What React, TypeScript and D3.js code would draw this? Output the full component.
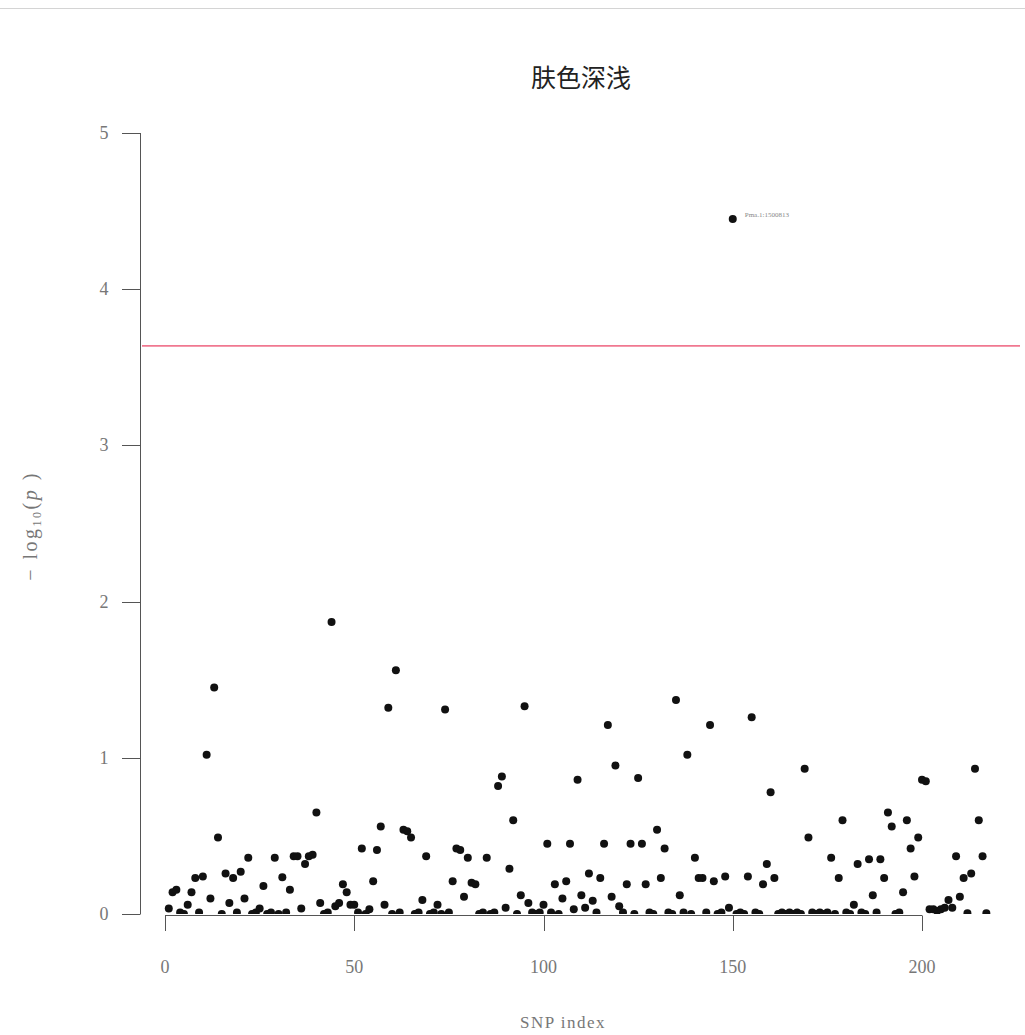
import * as d3 from "d3";
import { useEffect, useRef } from "react";

const title = "肤色深浅";
const xLabel = "SNP index";
const xTicks = [0, 50, 100, 150, 200];
const yTicks = [0, 1, 2, 3, 4, 5];
const threshold = 3.637;
const topSnpLabel = "Pma.1:1500813";

// -log10(p) per SNP, index 1..217
const pValues = [
  0.035, 0.14, 0.155, 0.01, 0.0, 0.06, 0.14, 0.23, 0.01, 0.24,
  1.02, 0.10, 1.45, 0.49, 0.0, 0.26, 0.07, 0.23, 0.01, 0.27,
  0.10, 0.36, 0.0, 0.01, 0.035, 0.18, 0.0, 0.01, 0.36, 0.0,
  0.235, 0.01, 0.155, 0.37, 0.37, 0.035, 0.32, 0.37, 0.38, 0.65,
  0.07, 0.0, 0.01, 1.87, 0.05, 0.07, 0.19, 0.14, 0.06, 0.06,
  0.01, 0.42, 0.0, 0.03, 0.21, 0.41, 0.56, 0.06, 1.32, 0.0,
  1.56, 0.01, 0.54, 0.53, 0.49, 0.0, 0.01, 0.09, 0.37, 0.0,
  0.01, 0.06, 0.0, 1.31, 0.01, 0.21, 0.42, 0.41, 0.11, 0.36,
  0.20, 0.19, 0.0, 0.01, 0.36, 0.0, 0.01, 0.82, 0.88, 0.04,
  0.29, 0.60, 0.0, 0.12, 1.33, 0.07, 0.01, 0.0, 0.01, 0.06,
  0.45, 0.01, 0.19, 0.0, 0.10, 0.21, 0.45, 0.03, 0.86, 0.12,
  0.04, 0.26, 0.085, 0.01, 0.23, 0.45, 1.21, 0.11, 0.95, 0.05,
  0.01, 0.19, 0.45, 0.0, 0.87, 0.45, 0.19, 0.01, 0.0, 0.54,
  0.23, 0.42, 0.01, 0.0, 1.37, 0.12, 0.01, 1.02, 0.0, 0.36,
  0.23, 0.23, 0.01, 1.21, 0.21, 0.0, 0.01, 0.24, 0.04, 4.45,
  0.0, 0.01, 0.0, 0.24, 1.26, 0.01, 0.0, 0.19, 0.32, 0.78,
  0.23, 0.0, 0.01, 0.0, 0.01, 0.0, 0.01, 0.0, 0.93, 0.49,
  0.01, 0.0, 0.01, 0.0, 0.01, 0.36, 0.0, 0.23, 0.60, 0.01,
  0.0, 0.06, 0.32, 0.01, 0.0, 0.35, 0.12, 0.01, 0.35, 0.23,
  0.65, 0.56, 0.0, 0.01, 0.14, 0.60, 0.42, 0.24, 0.49, 0.86,
  0.85, 0.03, 0.03, 0.02, 0.03, 0.04, 0.09, 0.04, 0.37, 0.11,
  0.23, 0.005, 0.26, 0.93, 0.60, 0.37, 0.005,
];

const width = 1025;
const height = 1035;
const serif = "'Liberation Serif', 'DejaVu Serif', serif";

export default function App() {
  const ref = useRef(null);

  useEffect(() => {
    const svg = d3.select(ref.current);
    svg.selectAll("*").remove();

    const x = d3.scaleLinear().domain([0, 200]).range([165, 922]);
    const y = d3.scaleLinear().domain([0, 5]).range([914, 133]);
    const data = pValues.map((v, i) => ({ idx: i + 1, value: v }));

    svg.append("rect").attr("width", width).attr("height", height).attr("fill", "#fff");

    // thin rule at the very top
    svg.append("line")
      .attr("x1", 0).attr("x2", width).attr("y1", 8.5).attr("y2", 8.5)
      .attr("stroke", "#d4d4d4").attr("stroke-width", 1);

    svg.append("text")
      .attr("x", 581).attr("y", 87)
      .attr("text-anchor", "middle")
      .attr("font-family", "'Noto Sans CJK SC', sans-serif")
      .attr("font-size", 25)
      .attr("fill", "#222")
      .text(title);

    // y axis
    const yAxis = svg.append("g").attr("stroke", "#555").attr("fill", "none");
    yAxis.append("line")
      .attr("x1", 140.5).attr("x2", 140.5)
      .attr("y1", y(0)).attr("y2", y(5));
    yTicks.forEach((t) => {
      yAxis.append("line")
        .attr("x1", 122).attr("x2", 140.5)
        .attr("y1", Math.round(y(t)) + 0.5).attr("y2", Math.round(y(t)) + 0.5);
      svg.append("text")
        .attr("x", 104).attr("y", y(t) + 6)
        .attr("text-anchor", "middle")
        .attr("font-family", serif)
        .attr("font-size", 18)
        .attr("fill", "#777")
        .text(t);
    });

    // y label: -log10(p)
    const yl = svg.append("text")
      .attr("transform", "translate(37,526) rotate(-90)")
      .attr("text-anchor", "middle")
      .attr("font-family", serif)
      .attr("font-size", 20)
      .attr("letter-spacing", 2.5)
      .attr("fill", "#777");
    yl.append("tspan").text("\u2212 log");
    yl.append("tspan").attr("font-size", 12).attr("dy", 4).text("10");
    yl.append("tspan").attr("dy", -4).text("(");
    yl.append("tspan").attr("font-style", "italic").text("p");
    yl.append("tspan").text(" )");

    // x axis
    const xAxis = svg.append("g").attr("stroke", "#555").attr("fill", "none");
    xAxis.append("line")
      .attr("x1", x(0)).attr("x2", x(200))
      .attr("y1", 915.5).attr("y2", 915.5);
    xTicks.forEach((t) => {
      xAxis.append("line")
        .attr("x1", Math.round(x(t)) + 0.5).attr("x2", Math.round(x(t)) + 0.5)
        .attr("y1", 915.5).attr("y2", 931);
      svg.append("text")
        .attr("x", x(t)).attr("y", 973)
        .attr("text-anchor", "middle")
        .attr("font-family", serif)
        .attr("font-size", 18)
        .attr("fill", "#777")
        .text(t);
    });
    svg.append("text")
      .attr("x", 563).attr("y", 1028)
      .attr("text-anchor", "middle")
      .attr("font-family", serif)
      .attr("font-size", 17)
      .attr("letter-spacing", 1.5)
      .attr("fill", "#777")
      .text(xLabel);

    // significance threshold
    svg.append("line")
      .attr("x1", 142).attr("x2", 1020)
      .attr("y1", y(threshold)).attr("y2", y(threshold))
      .attr("stroke", "#f07890").attr("stroke-width", 1.6);

    // points, clipped at y = 0
    svg.append("clipPath").attr("id", "plotclip")
      .append("rect").attr("x", 141).attr("y", 100).attr("width", 884).attr("height", y(0) - 100);

    svg.append("g").attr("clip-path", "url(#plotclip)")
      .selectAll("circle")
      .data(data)
      .join("circle")
      .attr("cx", (d) => x(d.idx))
      .attr("cy", (d) => y(d.value))
      .attr("r", 4)
      .attr("fill", "#111");

    const top = data.reduce((a, b) => (b.value > a.value ? b : a));
    svg.append("text")
      .attr("x", x(top.idx) + 12).attr("y", y(top.value) - 2)
      .attr("font-family", serif)
      .attr("font-size", 7)
      .attr("fill", "#888")
      .text(topSnpLabel);
  }, []);

  return (
    <svg
      ref={ref}
      width={width}
      height={height}
      style={{ position: "absolute", left: 0, top: 0, display: "block" }}
    ></svg>
  );
}
